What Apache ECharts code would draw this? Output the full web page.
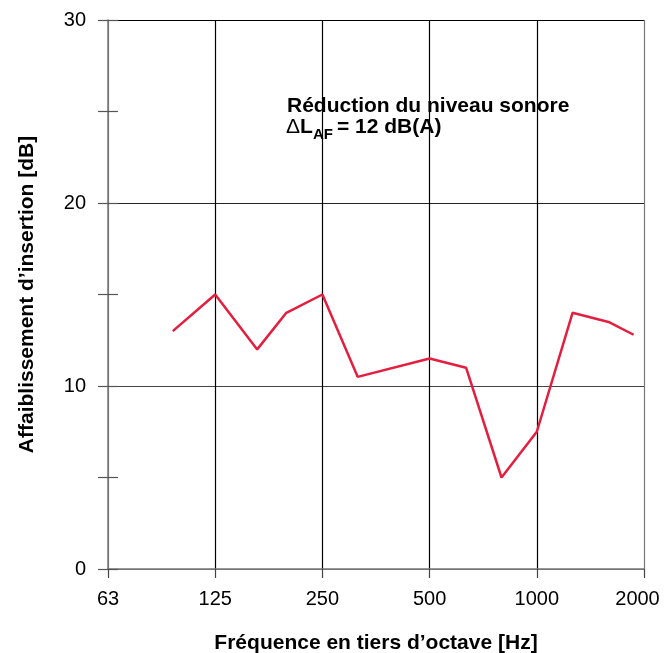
<!DOCTYPE html>
<html>
<head>
<meta charset="utf-8">
<script src="https://cdn.jsdelivr.net/npm/echarts@6/dist/echarts.min.js"></script>
<style>
  html, body { margin: 0; padding: 0; background: #fff; }
  #chart { width: 664px; height: 653px; }
</style>
</head>
<body>
<div id="chart"></div>
<script>
// third-octave centre frequencies (Hz)
const FREQUENCIES = [95, 125, 164, 198, 250, 314, 500, 633, 796, 1000, 1260, 1590, 1870];
// insertion loss (dB)
const INSERTION_LOSS = [13, 15, 12, 14, 15, 10.5, 11.5, 11, 5, 7.5, 14, 13.5, 12.8];
// octave tick labels, starting at 63 Hz (nominal 62.5)
const X_TICK_LABELS = ['63', '125', '250', '500', '1000', '2000'];
const BASE_FREQ = 62.5;

const FONT = '"Liberation Sans", Arial, Helvetica, sans-serif';

const chart = echarts.init(document.getElementById('chart'));

// octaves above 63 Hz -> position on a linear axis
const seriesData = FREQUENCIES.map((f, i) => [Math.log2(f / BASE_FREQ), INSERTION_LOSS[i]]);

const option = {
  animation: false,
  backgroundColor: '#fff',
  grid: { left: 108, right: 20, top: 20, bottom: 84, outerBoundsMode: 'none', containLabel: false },
  xAxis: {
    type: 'value',
    min: 0,
    max: X_TICK_LABELS.length - 1,
    interval: 1,
    name: 'Fréquence en tiers d’octave [Hz]',
    nameLocation: 'middle',
    nameGap: 64,
    nameMoveOverlap: false,
    nameTextStyle: { fontFamily: FONT, fontSize: 21, fontWeight: 'bold', color: '#000' },
    axisLine: { lineStyle: { color: '#777', width: 1.5 } },
    axisTick: { show: true, length: 9, lineStyle: { color: '#444', width: 1.2 } },
    axisLabel: {
      fontFamily: FONT, fontSize: 20, color: '#000', margin: 20,
      formatter: (v) => {
        const i = Math.round(v);
        // last label sits a little to the left so it stays inside the frame
        return i === X_TICK_LABELS.length - 1 ? '{last|' + X_TICK_LABELS[i] + '}' : X_TICK_LABELS[i];
      },
      rich: {
        last: { fontFamily: FONT, fontSize: 20, color: '#000', padding: [0, 13, 0, 0] }
      }
    },
    splitLine: {
      show: true,
      lineStyle: { color: ['#777', '#000', '#000', '#000', '#000', '#777'], width: 1.2 }
    }
  },
  yAxis: [
    {
      type: 'value',
      position: 'left',
      min: 0,
      max: 30,
      interval: 5,
      name: 'Affaiblissement d’insertion [dB]',
      nameLocation: 'middle',
      nameGap: 70,
      nameMoveOverlap: false,
      nameTextStyle: { fontFamily: FONT, fontSize: 21, fontWeight: 'bold', color: '#000' },
      axisLine: { show: true, lineStyle: { color: '#777', width: 1.5 } },
      axisTick: { show: true, length: 10, lineStyle: { color: '#555', width: 1.2 } },
      axisLabel: {
        fontFamily: FONT, fontSize: 20, color: '#000', margin: 22,
        formatter: (v) => (v % 10 === 0 ? String(v) : '')
      },
      splitLine: { show: false }
    },
    {
      type: 'value',
      position: 'left',
      min: 0,
      max: 30,
      interval: 5,
      axisLine: { show: false },
      axisTick: { show: true, inside: true, length: 10, lineStyle: { color: '#555', width: 1.2 } },
      axisLabel: { show: false },
      splitLine: { show: false }
    },
    {
      type: 'value',
      position: 'left',
      min: 0,
      max: 30,
      interval: 10,
      axisLine: { show: false },
      axisTick: { show: false },
      axisLabel: { show: false },
      splitLine: {
        show: true,
        lineStyle: { color: ['#777', '#444', '#222', '#000'], width: 1.2 }
      }
    }
  ],
  series: [
    {
      type: 'line',
      data: seriesData,
      symbol: 'none',
      lineStyle: { color: '#e41e3f', width: 2.5 },
      z: 5
    }
  ],
  graphic: [
    {
      type: 'text', left: 287, top: 96, z: 10,
      style: { text: 'Réduction du niveau sonore', font: 'bold 21px ' + FONT, fill: '#000' }
    },
    {
      type: 'text', left: 286, top: 117, z: 10,
      style: { text: 'Δ', font: '21px ' + FONT, fill: '#000' }
    },
    {
      type: 'text', left: 300, top: 117, z: 10,
      style: { text: 'L', font: 'bold 21px ' + FONT, fill: '#000' }
    },
    {
      type: 'text', left: 313, top: 127, z: 10,
      style: { text: 'AF', font: 'bold 15px ' + FONT, fill: '#000' }
    },
    {
      type: 'text', left: 337, top: 117, z: 10,
      style: { text: '= 12 dB(A)', font: 'bold 21px ' + FONT, fill: '#000' }
    }
  ]
};

chart.setOption(option);
</script>
</body>
</html>
